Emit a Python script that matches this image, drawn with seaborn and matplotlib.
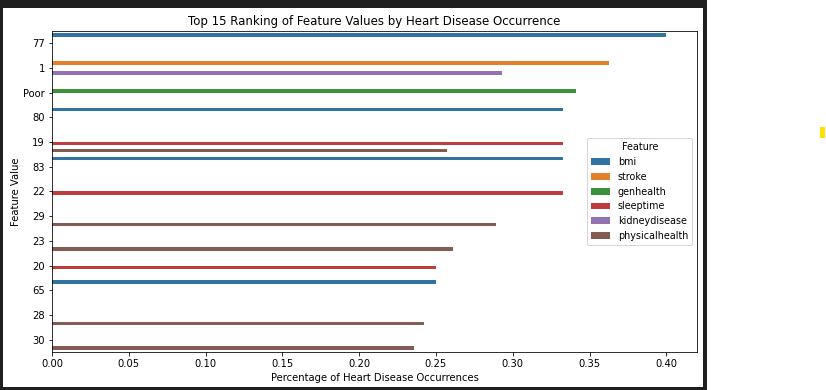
import matplotlib
matplotlib.use("Agg")
import matplotlib.pyplot as plt
from matplotlib.patches import Rectangle
import seaborn as sns
import pandas as pd

# top 15 (feature, value) pairs by heart disease rate
feature_values = ["77", "1", "1", "Poor", "80", "19", "19", "83", "22", "29",
                  "23", "20", "65", "28", "30"]
features = ["bmi", "stroke", "kidneydisease", "genhealth", "bmi", "sleeptime",
            "physicalhealth", "bmi", "sleeptime", "physicalhealth",
            "physicalhealth", "sleeptime", "bmi", "physicalhealth", "physicalhealth"]
percentages = [0.400, 0.363, 0.293, 0.341, 0.333, 0.333, 0.257, 0.333, 0.333,
               0.289, 0.261, 0.250, 0.250, 0.242, 0.236]

value_order = ["77", "1", "Poor", "80", "19", "83", "22", "29", "23", "20",
               "65", "28", "30"]
feature_order = ["bmi", "stroke", "genhealth", "sleeptime", "kidneydisease",
                 "physicalhealth"]

df = pd.DataFrame({"Feature Value": feature_values, "Feature": features,
                   "Percentage": percentages})

W, H = 826, 390
DPI = 72
fig = plt.figure(figsize=(W / DPI, H / DPI), dpi=DPI, facecolor="white")

# notebook output frame
fig.patches.append(Rectangle((0, 0), 707 / W, 1, transform=fig.transFigure,
                             facecolor="#1f1f1f", edgecolor="none", zorder=-3))
fig.patches.append(Rectangle((3 / W, 3 / H), 700 / W, 379 / H, transform=fig.transFigure,
                             facecolor="white", edgecolor="none", zorder=-2))
fig.patches.append(Rectangle((820 / W, (H - 138) / H), 5 / W, 11 / H,
                             transform=fig.transFigure, facecolor="#ffe000",
                             edgecolor="none", zorder=-2))

ax = fig.add_axes([52 / W, (H - 352) / H, 645 / W, 321 / H])
sns.barplot(data=df, x="Percentage", y="Feature Value", hue="Feature",
            order=value_order, hue_order=feature_order, orient="h", ax=ax)

ax.set_title("Top 15 Ranking of Feature Values by Heart Disease Occurrence", fontsize=11.8)
ax.set_xlabel("Percentage of Heart Disease Occurrences")
ax.set_ylabel("Feature Value", labelpad=2)
sns.move_legend(ax, "center right", title="Feature", fontsize=9.6, title_fontsize=9.6)

fig.savefig("out.png", dpi=DPI)
